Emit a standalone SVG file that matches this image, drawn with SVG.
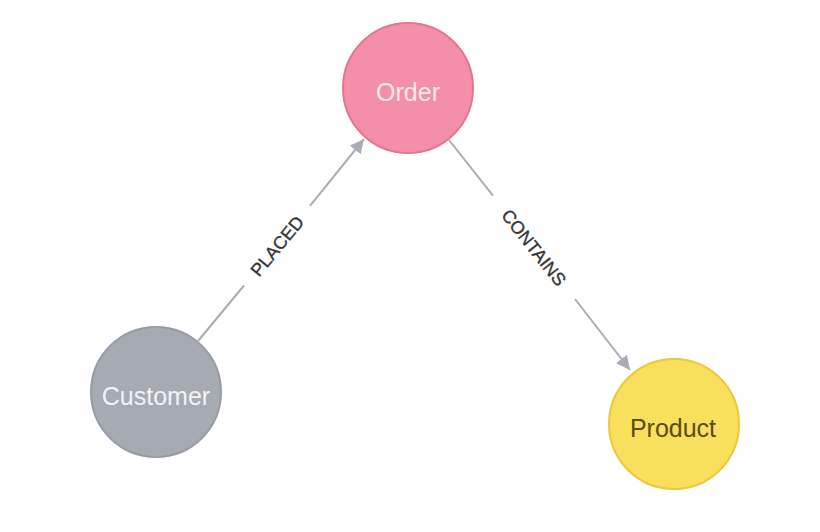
<svg xmlns="http://www.w3.org/2000/svg" width="820" height="532" viewBox="0 0 820 532">
<style>
.edge{stroke:#A9ADB5;stroke-width:2;fill:none}
.elabel{font-family:"Liberation Sans",Arial,sans-serif;font-size:18px;fill:#333333;stroke:#333333;stroke-width:0.35;text-anchor:middle}
.nlabel{font-family:"Liberation Sans",Arial,sans-serif;font-size:25px;text-anchor:middle}
</style>
<defs>
<marker id="arrow" markerUnits="userSpaceOnUse" markerWidth="16" markerHeight="14" refX="14" refY="7" orient="auto">
<path d="M0,0 L14,7 L0,14 Z" fill="#A9ADB5"/>
</marker>
</defs>
<rect width="820" height="532" fill="#ffffff"/>
<g id="connectors">
<g id="edge-placed">
<line class="edge" x1="198" y1="341" x2="244" y2="285.5"/>
<line class="edge" x1="310" y1="205.8" x2="364" y2="139" marker-end="url(#arrow)"/>
<text class="elabel" transform="translate(277,246) rotate(-50.3)" dy="6.5">PLACED</text>
</g>
<g id="edge-contains">
<line class="edge" x1="449" y1="140" x2="493" y2="195.6"/>
<line class="edge" x1="575" y1="299" x2="630" y2="370" marker-end="url(#arrow)"/>
<text class="elabel" transform="translate(534,247.5) rotate(51.6)" dy="6.5">CONTAINS</text>
</g>
</g>
<g id="node-order">
<circle cx="408" cy="88" r="65" fill="#F48FA9" stroke="#E8738F" stroke-width="2"/>
<text class="nlabel" x="408" y="101" fill="#FCE6EC">Order</text>
</g>
<g id="node-customer">
<circle cx="156" cy="392" r="65" fill="#A5AAB3" stroke="#979CA6" stroke-width="2"/>
<text class="nlabel" x="156" y="405" fill="#F2F3F5">Customer</text>
</g>
<g id="node-product">
<circle cx="674" cy="424" r="65" fill="#F8E05C" stroke="#EEC73A" stroke-width="2"/>
<text class="nlabel" x="673" y="437" fill="#5A4B18">Product</text>
</g>
</svg>
